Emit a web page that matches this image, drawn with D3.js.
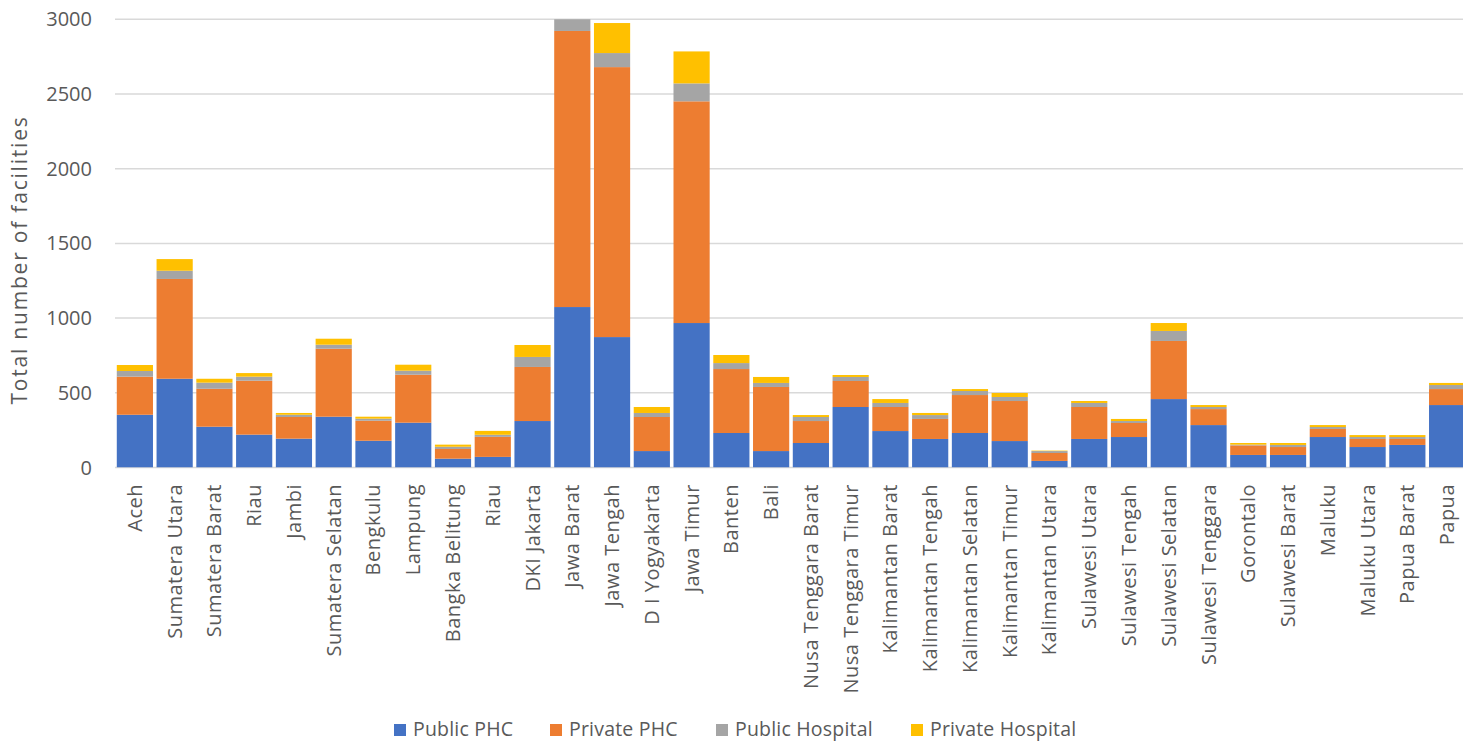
<!DOCTYPE html>
<html>
<head>
<meta charset="utf-8">
<script src="https://cdn.jsdelivr.net/npm/d3@7/dist/d3.min.js"></script>
<style>
  html, body { margin: 0; padding: 0; background: #fff; }
  svg { display: block; font-family: "Open Sans", "DejaVu Sans", sans-serif; }
</style>
</head>
<body>
<svg id="chart" width="1463" height="743"></svg>
<script>
// Health facilities per province
const provinces = [
  "Aceh", "Sumatera Utara", "Sumatera Barat", "Riau", "Jambi", "Sumatera Selatan",
  "Bengkulu", "Lampung", "Bangka Belitung", "Riau", "DKI Jakarta", "Jawa Barat",
  "Jawa Tengah", "D I Yogyakarta", "Jawa Timur", "Banten", "Bali",
  "Nusa Tenggara Barat", "Nusa Tenggara Timur", "Kalimantan Barat", "Kalimantan Tengah",
  "Kalimantan Selatan", "Kalimantan Timur", "Kalimantan Utara", "Sulawesi Utara",
  "Sulawesi Tengah", "Sulawesi Selatan", "Sulawesi Tenggara", "Gorontalo",
  "Sulawesi Barat", "Maluku", "Maluku Utara", "Papua Barat", "Papua"
];
const publicPHC = [353, 594, 273, 220, 193, 340, 179, 300, 59, 71, 311, 1074, 873, 110, 967, 231, 110,
  164, 405, 244, 191, 231, 177, 44, 191, 204, 458, 284, 84, 84, 204, 137, 151, 418];
const privatePHC = [255, 668, 254, 361, 145, 455, 134, 321, 65, 134, 362, 1848, 1807, 228, 1484, 428, 429,
  147, 174, 161, 134, 254, 268, 53, 214, 94, 389, 107, 64, 53, 54, 54, 40, 107];
const publicHospital = [38, 55, 41, 27, 15, 27, 14, 27, 15, 14, 67, 100, 94, 27, 120, 40, 27,
  27, 27, 27, 26, 27, 27, 13, 27, 13, 67, 14, 5, 14, 13, 13, 13, 27];
const privateHospital = [40, 78, 26, 24, 12, 40, 13, 40, 14, 26, 80, 250, 201, 40, 214, 54, 40,
  13, 13, 26, 14, 13, 27, 3, 13, 14, 53, 13, 11, 13, 13, 13, 13, 14];
const seriesNames = ["Public PHC", "Private PHC", "Public Hospital", "Private Hospital"];
const seriesColors = ["#4472C4", "#ED7D31", "#A5A5A5", "#FFC000"];
const yTicks = [0, 500, 1000, 1500, 2000, 2500, 3000];
const yTitle = "Total number of facilities";

const rows = provinces.map((p, i) => ({
  idx: i, name: p,
  "Public PHC": publicPHC[i],
  "Private PHC": privatePHC[i],
  "Public Hospital": publicHospital[i],
  "Private Hospital": privateHospital[i]
}));

const svg = d3.select("#chart");
const plot = { left: 115, right: 1467, top: 19.3, bottom: 467.5 };

const x = d3.scaleBand()
  .domain(rows.map(d => d.idx))
  .range([plot.left, plot.right])
  .paddingInner(0.09)
  .paddingOuter(0.045);

const y = d3.scaleLinear().domain([0, 3000]).range([plot.bottom, plot.top]);

// gridlines
svg.append("g")
  .selectAll("line")
  .data(yTicks)
  .join("line")
  .attr("x1", plot.left).attr("x2", plot.right)
  .attr("y1", d => y(d)).attr("y2", d => y(d))
  .attr("stroke", "#d9d9d9").attr("stroke-width", 1.5);

// y tick labels
svg.append("g")
  .selectAll("text")
  .data(yTicks)
  .join("text")
  .attr("x", 92)
  .attr("y", d => y(d))
  .attr("dy", "0.35em")
  .attr("text-anchor", "end")
  .attr("font-size", 20)
  .attr("fill", "#595959")
  .text(d => d);

// y axis title
svg.append("text")
  .attr("transform", `translate(27,${(112 + 408) / 2}) rotate(-90)`)
  .attr("text-anchor", "middle")
  .attr("font-size", 21)
  .attr("letter-spacing", 1.8)
  .attr("fill", "#595959")
  .text(yTitle);

// clip bars to the plotting area (values above 3000 are cut off)
svg.append("defs").append("clipPath").attr("id", "plotClip")
  .append("rect")
  .attr("x", plot.left).attr("y", plot.top)
  .attr("width", plot.right - plot.left).attr("height", plot.bottom - plot.top);

const stack = d3.stack().keys(seriesNames);
const stacked = stack(rows);

svg.append("g")
  .attr("clip-path", "url(#plotClip)")
  .selectAll("g")
  .data(stacked)
  .join("g")
  .attr("fill", (d, i) => seriesColors[i])
  .selectAll("rect")
  .data(d => d)
  .join("rect")
  .attr("x", d => x(d.data.idx))
  .attr("width", x.bandwidth())
  .attr("y", d => y(d[1]))
  .attr("height", d => y(d[0]) - y(d[1]));

// category labels
svg.append("g")
  .selectAll("text")
  .data(rows)
  .join("text")
  .attr("transform", d => `translate(${x(d.idx) + x.bandwidth() / 2},484) rotate(-90)`)
  .attr("text-anchor", "end")
  .attr("dy", "0.35em")
  .attr("font-size", 20)
  .attr("letter-spacing", 0.5)
  .attr("fill", "#595959")
  .text(d => d.name);

// legend
const legendX = [394, 550, 716, 911];
const legend = svg.append("g")
  .selectAll("g")
  .data(seriesNames)
  .join("g")
  .attr("transform", (d, i) => `translate(${legendX[i]},724)`);
legend.append("rect")
  .attr("width", 12).attr("height", 12)
  .attr("fill", (d, i) => seriesColors[i]);
legend.append("text")
  .attr("x", 19).attr("y", 12)
  .attr("font-size", 19.5)
  .attr("letter-spacing", 0.2)
  .attr("fill", "#595959")
  .text(d => d);
</script>
</body>
</html>
